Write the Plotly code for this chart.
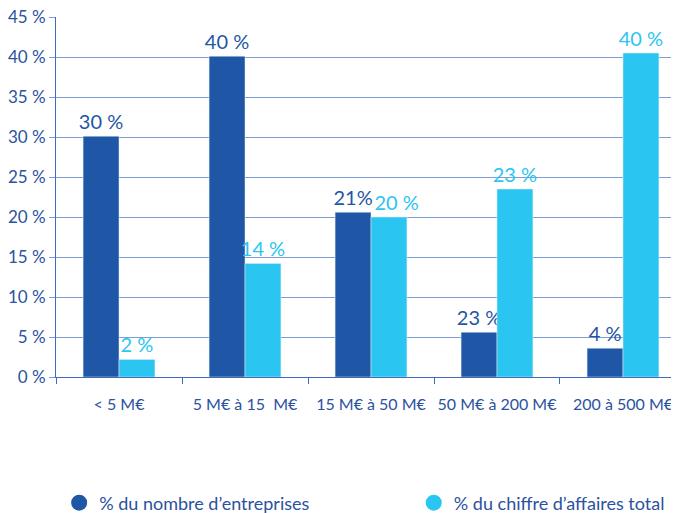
import plotly.graph_objects as go

# tranches de chiffre d'affaires
categories = ["< 5 M€", "5 M€ à 15  M€", "15 M€ à 50 M€", "50 M€ à 200 M€", "200 à 500 M€"]
# % du nombre d'entreprises
nb_entreprises = [30.1, 40.1, 20.6, 5.6, 3.6]
nb_labels = ["30 %", "40 %", "21%", "23 %", "4 %"]
# % du chiffre d'affaires total
chiffre_affaires = [2.2, 14.2, 20.0, 23.5, 40.5]
# espaces insecables : le "20 %" est decale a droite comme dans l'original
ca_labels = ["2 %", "14 %", "\u00a0\u00a0\u00a020 %", "23 %", "40 %"]
y_ticks = [0, 5, 10, 15, 20, 25, 30, 35, 40, 45]
y_ticklabels = [f"{v} %" for v in y_ticks]

dark = "#1f56a5"
light = "#2bc5f2"
txt = "#2b52a0"
narrow = "Liberation Sans Narrow, Lato"

fig = go.Figure()
fig.add_trace(go.Bar(x=categories, y=nb_entreprises, text=nb_labels, marker_color=dark,
                     textposition="outside", constraintext="none",
                     textfont=dict(color=dark, size=20, family="Lato"),
                     cliponaxis=False, showlegend=False))
fig.add_trace(go.Bar(x=categories, y=chiffre_affaires, text=ca_labels, marker_color=light,
                     textposition="outside", constraintext="none",
                     textfont=dict(color=light, size=20, family="Lato"),
                     cliponaxis=False, showlegend=False))
# entrees de legende en ronds, une legende par serie
fig.add_trace(go.Scatter(x=[None], y=[None], mode="markers", name="% du nombre d’entreprises",
                         marker=dict(color=dark, size=16, symbol="circle"), legend="legend"))
fig.add_trace(go.Scatter(x=[None], y=[None], mode="markers", name="% du chiffre d’affaires total",
                         marker=dict(color=light, size=16, symbol="circle"), legend="legend2"))

leg_font = dict(size=18, family=narrow, color=txt)
fig.update_layout(
    width=679, height=513,
    margin=dict(l=48, r=0, t=9, b=144, autoexpand=False),
    plot_bgcolor="white", paper_bgcolor="white",
    barmode="group", bargap=0.43, bargroupgap=0,
    font=dict(family="Lato", color=txt),
    legend=dict(x=0.005, xanchor="left", y=-0.35, yanchor="middle", font=leg_font, itemwidth=30,
                bgcolor="rgba(0,0,0,0)"),
    legend2=dict(x=0.567, xanchor="left", y=-0.35, yanchor="middle", font=leg_font, itemwidth=30,
                 bgcolor="rgba(0,0,0,0)"),
)
fig.update_xaxes(range=[-0.5, 4.508], showline=True, linecolor="#3f6cb8", linewidth=1,
                 ticks="outside", tickson="boundaries", ticklen=6, tickcolor="#3f6cb8",
                 tickangle=0, automargin=False,
                 tickfont=dict(size=16, family=narrow, color=txt),
                 ticklabelstandoff=13, showgrid=False)
fig.update_yaxes(range=[0, 45], tickvals=y_ticks, ticktext=y_ticklabels,
                 showline=True, linecolor="#3f6cb8", linewidth=1, automargin=False,
                 showgrid=True, gridcolor="#7d9dd6", gridwidth=1,
                 ticks="outside", ticklen=6, tickcolor="#7d9dd6", ticklabeloverflow="allow",
                 tickfont=dict(size=17, color=txt), zeroline=False)

fig.write_html("out.html")
